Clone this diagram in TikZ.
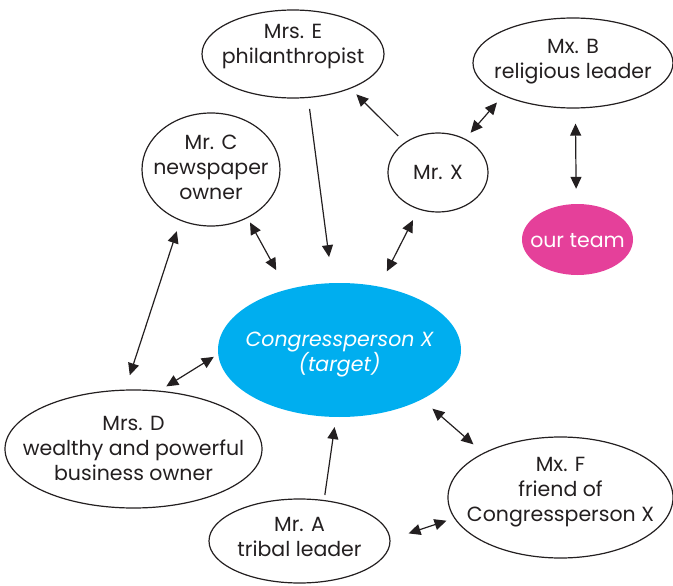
\documentclass[tikz,border=0pt]{standalone}
\usepackage{fontspec}
\setmainfont{Poppins}
\usetikzlibrary{shapes.geometric,arrows.meta}
\definecolor{cblue}{HTML}{00AEEF}
\definecolor{cpink}{HTML}{E5409A}
\definecolor{ink}{HTML}{231F20}
\begin{document}
\begin{tikzpicture}[x=1pt,y=-1pt,
  oval/.style={ellipse,draw=ink,line width=1.2pt,inner sep=0pt},
  solidoval/.style={ellipse,inner sep=0pt,draw=none},
  txt/.style={align=center,font=\fontsize{20.5}{25}\selectfont,text=ink,inner sep=0pt},
  conn/.style={line width=1.2pt,draw=ink},
  tip/.tip={Triangle[length=12pt,width=11pt]},
  two/.style={conn,tip-tip},
  one/.style={conn,-tip}]
\useasboundingbox (0,0) rectangle (673,586);
% ellipses
\node[oval,minimum width=182pt,minimum height=88pt] (e) at (293,54) {};
\node[oval,minimum width=200pt,minimum height=90pt] (b) at (573,63) {};
\node[oval,minimum width=138pt,minimum height=113pt] (c) at (211,169.5) {};
\node[oval,minimum width=100pt,minimum height=79pt] (x) at (438,172.5) {};
\node[solidoval,fill=cpink,minimum width=111pt,minimum height=71pt] (t) at (577.5,239.5) {};
\node[solidoval,fill=cblue,minimum width=243pt,minimum height=134pt] (p) at (339.5,350) {};
\node[oval,minimum width=257pt,minimum height=118pt] (d) at (133.5,449) {};
\node[oval,minimum width=225pt,minimum height=121pt] (f) at (560.5,497.5) {};
\node[oval,minimum width=181pt,minimum height=84pt] (a) at (299.5,541) {};
% texts
\node[txt,yshift=7pt] (et) at (e) {Mrs. E\\philanthropist};
\node[txt,yshift=1pt] (bt) at (b) {Mx. B\\religious leader};
\node[txt,yshift=2pt] (ct) at (c) {Mr. C\\newspaper\\owner};
\node[txt] (xt) at (x) {Mr. X};
\node[txt,text=white,yshift=-1pt] (tt) at (t) {our team};
\node[txt,text=white,font=\fontsize{20.5}{25}\selectfont\itshape,yshift=-5pt] (pt) at (p) {Congressperson X\\(target)};
\node[txt,yshift=1pt] (dt) at (d) {Mrs. D\\wealthy and powerful\\business owner};
\node[txt,yshift=5pt] (ft) at (f) {Mx. F\\friend of\\Congressperson X};
\node[txt,yshift=4pt] (at) at (a) {Mr. A\\tribal leader};
% connectors
\draw[one,shorten <=9pt,shorten >=8pt] (x.138) -- (e.-31);
\draw[two,shorten <=8pt,shorten >=9pt] (x.51) -- (b.205);
\draw[two,shorten <=15pt,shorten >=15pt] (b.-87) -- (t.92);
\draw[one,shorten <=11pt,shorten >=26pt] (e.-71) -- (p.96);
\draw[two,shorten <=12pt,shorten >=17pt] (x.242) -- (p.58);
\draw[two,shorten <=5pt,shorten >=22pt] (c.-53) -- (p.131);
\draw[two,shorten <=11pt,shorten >=15pt] (c.-121) -- (d.98);
\draw[two,shorten <=8pt,shorten >=5pt] (d.66) -- (p.182);
\draw[two,shorten <=14pt,shorten >=13pt] (p.-31) -- (f.150);
\draw[one,shorten <=5pt,shorten >=10pt] (a.59) -- (p.-93);
\draw[two,shorten <=19pt,shorten >=8pt] (a.1) -- (f.191);
\end{tikzpicture}
\end{document}
